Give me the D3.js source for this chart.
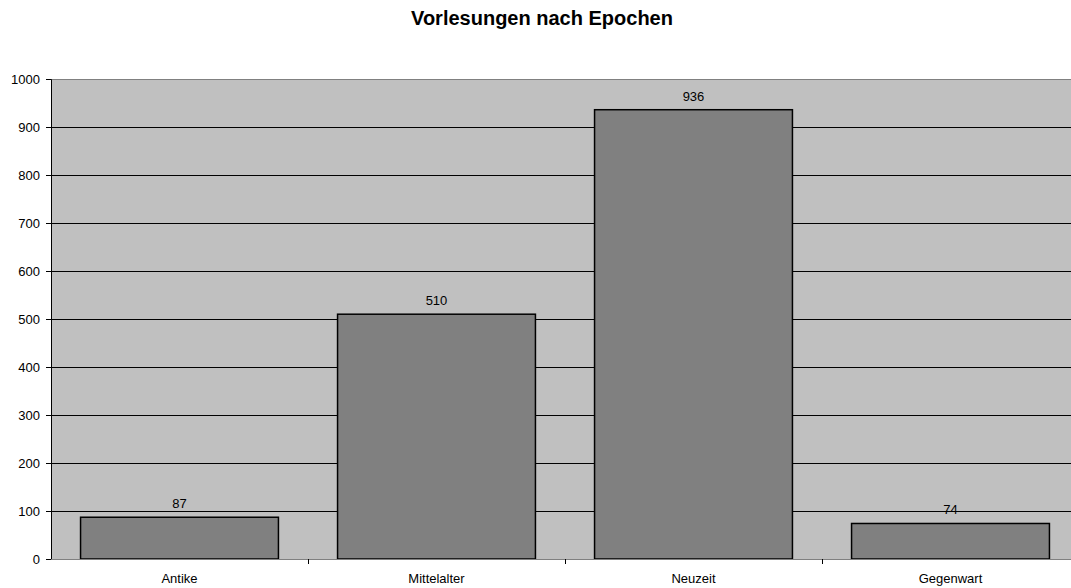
<!DOCTYPE html>
<html>
<head>
<meta charset="utf-8">
<script src="https://cdn.jsdelivr.net/npm/d3@7"></script>
<style>
  body { margin: 0; background: #fff; }
  text { font-family: Arial, "Liberation Sans", sans-serif; fill: #000; }
</style>
</head>
<body>
<div id="chart"></div>
<script>
// Data
const categories = ["Antike", "Mittelalter", "Neuzeit", "Gegenwart"];
const values = [87, 510, 936, 74];
const yTicks = [0, 100, 200, 300, 400, 500, 600, 700, 800, 900, 1000];

const W = 1071, H = 588;
const margin = { top: 79, left: 51, bottom: 29 },
      plotW = 4 * 257,
      plotH = H - margin.top - margin.bottom;

const svg = d3.select("#chart")
  .append("svg")
    .attr("width", W)
    .attr("height", H);

svg.append("text")
    .attr("x", 542)
    .attr("y", 25)
    .attr("text-anchor", "middle")
    .style("font-size", "20px")
    .style("font-weight", "bold")
    .text("Vorlesungen nach Epochen");

const g = svg.append("g")
    .attr("transform", `translate(${margin.left},${margin.top})`);

const x = d3.scaleBand()
    .domain(categories)
    .range([0, plotW])
    .paddingInner(0.23)
    .paddingOuter(0.115);

const y = d3.scaleLinear()
    .domain([0, 1000])
    .range([plotH, 0]);

// plot background
g.append("rect")
    .attr("x", 0)
    .attr("y", 0)
    .attr("width", plotW)
    .attr("height", plotH)
    .attr("fill", "#c0c0c0");

// gridlines
g.selectAll(".grid")
  .data(yTicks.filter(d => d > 0 && d < 1000))
  .join("line")
    .attr("x1", 0)
    .attr("x2", plotW)
    .attr("y1", d => Math.round(y(d)) + 0.5)
    .attr("y2", d => Math.round(y(d)) + 0.5)
    .attr("stroke", "#000")
    .attr("stroke-width", 1);

// top border
g.append("line")
    .attr("x1", 0).attr("x2", plotW)
    .attr("y1", 0.5).attr("y2", 0.5)
    .attr("stroke", "#808080");

// bars
g.selectAll(".bar")
  .data(values)
  .join("rect")
    .attr("x", (d, i) => x(categories[i]))
    .attr("y", d => y(d))
    .attr("width", x.bandwidth())
    .attr("height", d => plotH - y(d))
    .attr("fill", "#808080")
    .attr("stroke", "#000")
    .attr("stroke-width", 1.5);

// value labels
g.selectAll(".val")
  .data(values)
  .join("text")
    .attr("x", (d, i) => x(categories[i]) + x.bandwidth() / 2)
    .attr("y", d => y(d) - 9)
    .attr("text-anchor", "middle")
    .style("font-size", "13px")
    .text(d => d);

// y axis
const yAxis = g.append("g")
    .call(d3.axisLeft(y).tickValues(yTicks).tickFormat(d3.format("d")).tickSize(5).tickPadding(6));
yAxis.select(".domain").attr("stroke", "#000");
yAxis.selectAll("text").style("font-size", "13px").attr("font-family", null);

// x axis
const xAxis = g.append("g")
    .attr("transform", `translate(0,${plotH})`);
xAxis.append("line")
    .attr("x1", 0).attr("x2", plotW)
    .attr("y1", 0.5).attr("y2", 0.5)
    .attr("stroke", "#808080");
xAxis.selectAll(".sep")
  .data(d3.range(1, categories.length))
  .join("line")
    .attr("x1", d => Math.round(x.step() * d) + 0.5)
    .attr("x2", d => Math.round(x.step() * d) + 0.5)
    .attr("y1", 0)
    .attr("y2", 5)
    .attr("stroke", "#000");
xAxis.selectAll(".cat")
  .data(categories)
  .join("text")
    .attr("x", d => x(d) + x.bandwidth() / 2)
    .attr("y", 24)
    .attr("text-anchor", "middle")
    .style("font-size", "13px")
    .text(d => d);
</script>
</body>
</html>
